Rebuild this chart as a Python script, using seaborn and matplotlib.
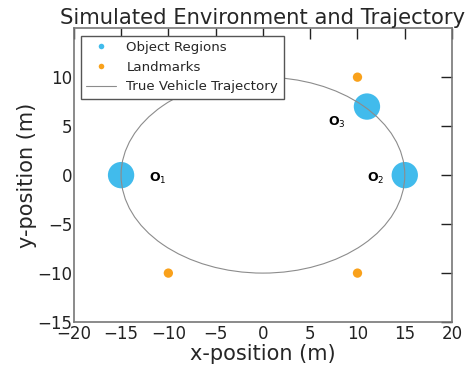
import matplotlib
matplotlib.use("Agg")
import matplotlib.pyplot as plt
import seaborn as sns
import pandas as pd
from matplotlib.patches import Ellipse
from matplotlib.lines import Line2D

sns.set_theme(style="white")
plt.rcParams['font.family'] = ['DejaVu Sans']

# Data
object_x = [-15, 15, 11]
object_y = [0, 0, 7]
object_labels = ["O$_1$", "O$_2$", "O$_3$"]
label_x = [-12.0, 11.0, 6.9]
label_y = [-0.3, -0.3, 5.4]
landmark_x = [10, -10, 10]
landmark_y = [10, -10, -10]
traj_center = [0, 0]
traj_semi_axes = [15, 10]

blue = "#41bbec"
orange = "#f9a11b"

fig = plt.figure(figsize=(4.67, 3.66), dpi=100)
ax = fig.add_axes([0.158, 0.12, 0.81, 0.803])

obj = pd.DataFrame({"x": object_x, "y": object_y})
lm = pd.DataFrame({"x": landmark_x, "y": landmark_y})

sns.scatterplot(data=obj, x="x", y="y", ax=ax, color=blue, s=360,
                edgecolor="none", zorder=2, legend=False)
sns.scatterplot(data=lm, x="x", y="y", ax=ax, color=orange, s=45,
                edgecolor="none", zorder=2, legend=False)

ell = Ellipse(xy=(traj_center[0], traj_center[1]), width=2 * traj_semi_axes[0],
              height=2 * traj_semi_axes[1], fill=False, edgecolor="#8c8c8c",
              linewidth=0.8, zorder=3)
ax.add_patch(ell)

for lx, ly, lab in zip(label_x, label_y, object_labels):
    ax.text(lx, ly, lab, fontsize=9, fontweight="bold", color="black",
            va="center", ha="left")

ax.set_xlim(-20, 20)
ax.set_ylim(-15, 15)
ax.set_xticks(range(-20, 21, 5))
ax.set_yticks(range(-15, 11, 5))
ax.tick_params(direction="in", length=8, width=1, colors="#222222",
               top=True, right=True, labelsize=12, pad=1)
ax.tick_params(axis="x", pad=2)
for s in ax.spines.values():
    s.set_color("#777777")
    s.set_linewidth(1.2)

ax.set_xlabel("x-position (m)", fontsize=15, labelpad=1)
ax.set_ylabel("y-position (m)", fontsize=15, labelpad=0)
ax.set_title("Simulated Environment and Trajectory", fontsize=15.2, pad=3)

handles = [
    Line2D([], [], linestyle="none", marker="o", markersize=4,
           markerfacecolor=blue, markeredgecolor="none", label="Object Regions"),
    Line2D([], [], linestyle="none", marker="o", markersize=4,
           markerfacecolor=orange, markeredgecolor="none", label="Landmarks"),
    Line2D([], [], color="#8c8c8c", linewidth=0.8, label="True Vehicle Trajectory"),
]
leg = ax.legend(handles=handles, loc="upper left", fontsize=9.6, frameon=True,
                fancybox=False, edgecolor="#555555", framealpha=1,
                borderaxespad=0.55, handlelength=2.2, labelspacing=0.5,
                borderpad=0.4)
leg.get_frame().set_linewidth(1.0)

fig.savefig("out.png", dpi=100)
